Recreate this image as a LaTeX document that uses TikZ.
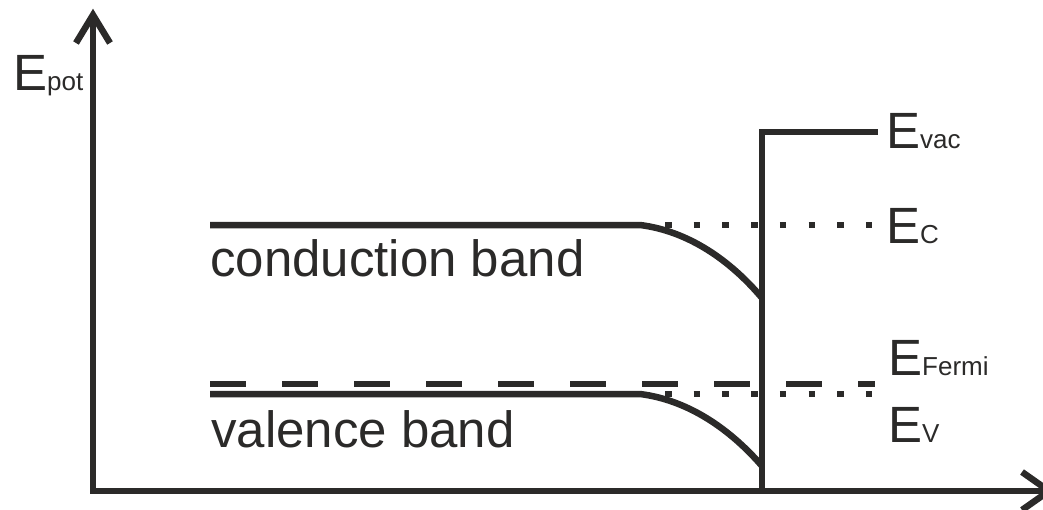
\documentclass[tikz,border=0pt]{standalone}
\usepackage{fontspec}
\setmainfont{Liberation Sans}
\definecolor{ink}{HTML}{2B2A29}
\newcommand{\subsz}{\fontsize{26}{30}\selectfont}
\begin{document}
\begin{tikzpicture}[x=1pt, y=-1pt,
  stroke/.style={draw=ink, line width=6.5pt, line join=miter},
  dotline/.style={draw=ink, line width=6.5pt, dash pattern=on 6.5pt off 22.2pt},
  fermiline/.style={draw=ink, line width=6.5pt, dash pattern=on 36pt off 36pt},
  lbl/.style={inner sep=0pt, anchor=base west, text=ink, font=\fontsize{51}{60}\selectfont}]
\useasboundingbox (0,0) rectangle (1043,509);

% axes
\coordinate (origin) at (93,491);
\coordinate (ytip) at (93,15);
\coordinate (xtip) at (1049,491);
\draw[stroke] (ytip) -- (origin) -- (xtip);
\draw[stroke] (76,43) -- (ytip) -- (110,43);
\draw[stroke] (1022,472) -- (xtip) -- (1022,510);

% vacuum level step at the surface
\coordinate (surfbot) at (762,491);
\coordinate (surftop) at (762,132);
\coordinate (vacend) at (878,132);
\draw[stroke] (surfbot) -- (surftop) -- (vacend);

% conduction band with downward bending
\coordinate (cbstart) at (210,225);
\coordinate (cbbend) at (640,225);
\coordinate (cbsurf) at (762,298);
\draw[stroke, line join=round] (cbstart) -- (cbbend)
  .. controls (688,231) and (730,260) .. (cbsurf);

% valence band with downward bending
\coordinate (vbstart) at (210,394);
\coordinate (vbbend) at (640,394);
\coordinate (vbsurf) at (762,466);
\draw[stroke, line join=round] (vbstart) -- (vbbend)
  .. controls (688,400) and (730,429) .. (vbsurf);

% flat-band continuations
\coordinate (ecfrom) at (665,225);
\coordinate (ecto) at (875,225);
\draw[dotline] (ecfrom) -- (ecto);
\coordinate (evfrom) at (665,394);
\coordinate (evto) at (875,394);
\draw[dotline] (evfrom) -- (evto);

% Fermi level
\coordinate (effrom) at (210,384);
\coordinate (efto) at (875,384);
\draw[fermiline] (effrom) -- (efto);

% labels
\node[lbl] (epot) at (13,90) {E{\subsz pot}};
\node[lbl] (evac) at (886,148) {E{\subsz vac}};
\node[lbl] (ec) at (886,243) {E{\subsz C}};
\node[lbl] (ef) at (888,375) {E{\subsz Fermi}};
\node[lbl] (ev) at (888,442) {E{\subsz V}};
\node[lbl] (cbtext) at (210,276) {conduction band};
\node[lbl] (vbtext) at (211,447) {valence band};
\end{tikzpicture}
\end{document}
